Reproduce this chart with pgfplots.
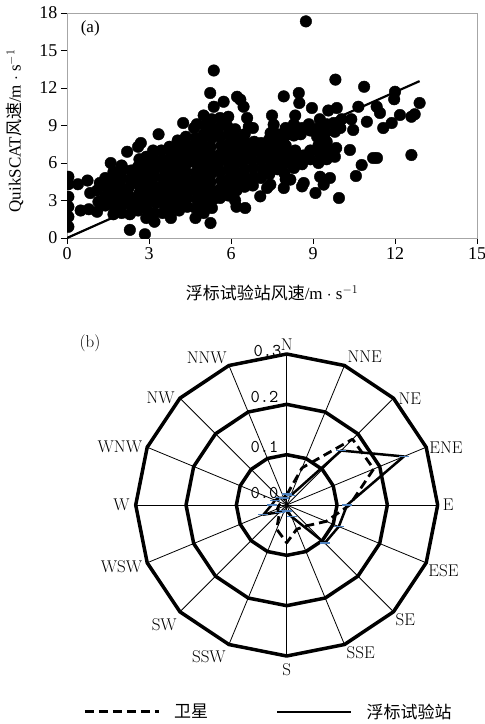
\documentclass[border=0pt]{standalone}
\usepackage{pgfplots}
\pgfplotsset{compat=1.18}
\usepgfplotslibrary{polar}
\usepackage{fontspec}
\newfontfamily\tnr{Liberation Serif}
\newfontfamily\cjk{Noto Sans CJK SC}
\definecolor{steelblue}{HTML}{4F81BD}
\newcommand{\fs}{\fontsize{17bp}{20bp}\selectfont}
\begin{document}
\begin{tikzpicture}
\useasboundingbox (0,0) rectangle (485bp,-724bp);
% (a) scatter
\begin{axis}[
  at={(67bp,-238bp)}, anchor=south west,
  scale only axis, width=410bp, height=225bp,
  xmin=0, xmax=15, ymin=0, ymax=18,
  xtick={0,3,...,15}, ytick={0,3,...,18},
  tick pos=left, tick align=outside,
  major tick length=6bp,
  axis line style={gray!70},
  tick style={black},
  ticklabel style={font=\fontsize{18bp}{20bp}\selectfont\tnr},
  /pgf/number format/assume math mode=true,
  xlabel={{\cjk 浮标试验站风速}{\tnr /m $\cdot$ s$^{-1}$}},
  ylabel={{\tnr QuikSCAT}{\cjk 风速}{\tnr /m $\cdot$ s$^{-1}$}},
  label style={font=\fs},
  x label style={at={(axis description cs:0.5,-0.244)}, anchor=center},
  y label style={at={(axis description cs:-0.127,0.476)}, anchor=center},
  clip marker paths=true,
]
\addplot[only marks, mark=*, mark size=5.8bp, black] coordinates {
(0.05,0.9)(0.05,1.7)(0.05,2.5)(0.05,3.3)(0.05,4.3)(0.05,4.9)
(0.5,2.2)(0.4,4.3)(0.75,4.6)
(0.8,2.3)(0.85,3.6)(1.1,2.1)(1.15,2.9)(1.1,3.8)(1.2,4.4)
(1.4,2.6)(1.4,3.3)(1.45,4.0)(1.4,4.8)
(1.7,1.9)(1.75,2.4)(1.7,3.0)(1.65,3.8)(1.7,4.6)(1.7,5.3)(1.6,6.0)
(2.0,2.0)(2.05,2.7)(2.0,3.4)(1.95,4.1)(2.0,4.8)(2.05,5.5)(2.0,5.8)
(2.3,0.65)(2.3,1.9)(2.35,2.6)(2.3,3.3)(2.25,4.0)(2.3,4.7)(2.35,5.4)(2.2,6.9)
(2.6,2.2)(2.6,2.9)(2.65,3.6)(2.6,4.3)(2.55,5.0)(2.6,5.7)(2.65,6.3)(2.6,7.3)
(2.85,0.3)(2.9,1.6)(2.9,2.4)(2.95,3.1)(2.9,3.8)(2.85,4.5)(2.9,5.2)(2.95,5.9)(2.9,6.5)(2.7,7.6)
(3.2,1.3)(3.2,2.0)(3.25,2.8)(3.2,3.5)(3.15,4.2)(3.2,4.9)(3.25,5.6)(3.2,6.3)(3.15,7.0)
(3.5,2.0)(3.55,2.7)(3.5,3.4)(3.45,4.1)(3.5,4.8)(3.55,5.5)(3.5,6.2)(3.45,7.0)(3.35,8.3)
(3.8,1.6)(3.8,2.4)(3.85,3.1)(3.8,3.8)(3.75,4.5)(3.8,5.2)(3.85,5.9)(3.8,6.6)(3.75,7.3)
(4.1,2.2)(4.1,2.9)(4.15,3.6)(4.1,4.3)(4.05,5.0)(4.1,5.7)(4.15,6.4)(4.1,7.1)(4.05,7.8)
(4.4,2.5)(4.4,3.2)(4.45,3.9)(4.4,4.6)(4.35,5.3)(4.4,6.0)(4.45,6.7)(4.4,7.4)(4.35,8.1)(4.25,9.2)
(4.7,1.6)(4.7,2.4)(4.75,3.1)(4.7,3.8)(4.65,4.5)(4.7,5.2)(4.75,5.9)(4.7,6.6)(4.65,7.3)(4.7,8.0)(4.65,8.8)(4.75,9.1)
(5.0,2.0)(5.0,2.7)(5.05,3.4)(5.0,4.1)(4.95,4.8)(5.0,5.5)(5.05,6.2)(5.0,6.9)(4.95,7.6)(5.0,8.3)(5.05,9.0)(5.0,9.8)
(5.25,1.2)(5.3,2.4)(5.35,3.1)(5.3,3.8)(5.25,4.5)(5.3,5.2)(5.35,5.9)(5.3,6.6)(5.25,7.3)(5.3,8.0)(5.35,8.7)(5.3,9.5)(5.37,10.5)(5.24,11.6)(5.37,13.4)
(5.6,3.2)(5.6,3.9)(5.65,4.6)(5.6,5.3)(5.55,6.0)(5.6,6.7)(5.65,7.4)(5.6,8.1)(5.55,8.8)(5.6,9.6)(5.73,10.9)
(5.9,3.4)(5.9,4.1)(5.95,4.8)(5.9,5.5)(5.85,6.2)(5.9,6.9)(5.95,7.6)(5.9,8.3)(5.85,9.0)(5.9,9.7)
(6.2,2.5)(6.15,3.0)(6.2,3.8)(6.25,4.5)(6.2,5.2)(6.15,5.9)(6.2,6.6)(6.25,7.3)(6.2,8.0)(6.15,8.7)(6.22,11.3)(6.34,11.07)
(6.52,2.4)(6.5,4.1)(6.55,4.8)(6.5,5.5)(6.45,6.2)(6.5,6.9)(6.55,7.6)(6.5,8.3)(6.59,9.6)(6.46,10.5)(6.65,8.9)
(6.8,4.2)(6.85,4.9)(6.8,5.6)(6.75,6.3)(6.8,7.0)(6.85,7.7)(6.8,8.8)
(7.07,3.33)(7.1,4.8)(7.15,5.5)(7.1,6.2)(7.05,6.9)(7.1,7.6)
(7.32,4.0)(7.44,4.27)(7.4,5.1)(7.45,5.8)(7.4,6.5)(7.35,7.2)(7.4,7.9)(7.45,8.4)(7.5,9.8)
(7.7,5.5)(7.75,6.2)(7.7,6.9)(7.65,7.6)(7.7,8.3)(7.56,9.07)
(7.93,4.0)(8.0,4.7)(7.95,5.2)(8.0,6.0)(8.05,6.7)(8.0,7.4)(7.95,8.1)(8.0,8.8)(7.93,11.33)
(8.17,4.67)(8.3,5.6)(8.3,6.3)(8.35,7.0)(8.3,8.2)(8.25,8.6)(8.3,9.1)(8.35,9.8)
(8.6,4.13)(8.66,4.4)(8.6,5.9)(8.65,6.6)(8.55,8.3)(8.6,8.8)(8.5,10.8)(8.48,11.6)
(8.9,6.3)(8.9,7.0)(8.9,8.6)(8.85,9.1)(8.96,10.4)(8.74,17.33)
(9.09,3.6)(9.26,4.9)(9.2,6.0)(9.25,6.7)(9.2,7.4)(9.15,8.1)(9.2,8.8)(9.25,9.5)
(9.39,4.27)(9.62,4.8)(9.5,6.3)(9.55,7.0)(9.5,7.7)(9.45,8.4)(9.5,9.1)(9.56,10.2)
(9.8,6.5)(9.85,7.2)(9.8,8.5)(9.75,9.2)(9.87,10.4)(9.82,12.67)
(9.95,3.2)(10.0,8.8)(10.05,9.5)
(10.35,7.04)(10.47,8.64)(10.4,9.5)(10.57,4.96)(10.66,10.5)(10.78,5.84)(10.97,9.3)(10.87,12.1)
(11.2,6.4)(11.34,6.4)(11.33,10.5)(11.45,10.0)(11.57,8.8)(11.88,9.2)
(12.0,11.7)(11.97,11.1)(12.18,9.84)(12.6,9.7)(12.72,9.9)(12.9,10.8)(12.6,6.64)
};
\addplot[black, line width=2.2bp] coordinates {(0,0) (12.9,12.55)};
\node[font=\fs\tnr] at (axis cs:0.85,16.8) {(a)};
\end{axis}
\node[font=\fs] at (90bp,-343bp) {(b)};
% (b) radar
\begin{polaraxis}[
  at={(286.7bp,-505bp)}, anchor=center,
  scale only axis, width=302bp, height=302bp,
  ymin=0, ymax=0.3, hide axis, clip=false,
  legend style={at={(axis description cs:0.44,-0.185)}, anchor=center,
    draw=none, fill=none, font=\fs\cjk,
    /tikz/every odd column/.append style={column sep=12bp},
    /tikz/every even column/.append style={column sep=66bp}},
  legend columns=2,
  legend image code/.code={\draw[#1, mark=none] (0bp,0bp) -- (74bp,0bp);},
]
\foreach \a in {0,22.5,45,67.5,90,112.5,135,157.5}{
  \addplot[forget plot, black, line width=0.8bp] coordinates {(\a,0.3) (\a+180,0.3)};
}
\addplot[forget plot, black, line width=3.5bp, line join=round] coordinates {
(0,0.1)(22.5,0.1)(45,0.1)(67.5,0.1)(90,0.1)(112.5,0.1)(135,0.1)(157.5,0.1)
(180,0.1)(202.5,0.1)(225,0.1)(247.5,0.1)(270,0.1)(292.5,0.1)(315,0.1)(337.5,0.1)(360,0.1)};
\addplot[forget plot, black, line width=3.5bp, line join=round] coordinates {
(0,0.2)(22.5,0.2)(45,0.2)(67.5,0.2)(90,0.2)(112.5,0.2)(135,0.2)(157.5,0.2)
(180,0.2)(202.5,0.2)(225,0.2)(247.5,0.2)(270,0.2)(292.5,0.2)(315,0.2)(337.5,0.2)(360,0.2)};
\addplot[forget plot, black, line width=3.5bp, line join=round] coordinates {
(0,0.3)(22.5,0.3)(45,0.3)(67.5,0.3)(90,0.3)(112.5,0.3)(135,0.3)(157.5,0.3)
(180,0.3)(202.5,0.3)(225,0.3)(247.5,0.3)(270,0.3)(292.5,0.3)(315,0.3)(337.5,0.3)(360,0.3)};
% satellite
\addplot[black, line width=2.8bp, dash pattern=on 9bp off 5bp, line join=round] coordinates {
(90,0.02)(67.5,0.08)(45,0.185)(22.5,0.187)(0,0.125)(-22.5,0.085)(-45,0.058)(-67.5,0.052)
(-90,0.075)(-112.5,0.052)(-135,0.02)(-157.5,0.02)(180,0.015)(157.5,0.01)(135,0.01)(112.5,0.012)(90,0.02)};
\addlegendentry{卫星}
% buoy
\addplot[black, line width=2.5bp, line join=round, mark=-, mark size=5bp,
  mark options={solid, draw=steelblue, line width=1.2bp}] coordinates {
(90,0.022)(67.5,0.02)(45,0.153)(22.5,0.252)(0,0.12)(-22.5,0.112)(-45,0.107)(-67.5,0.025)
(-90,0.012)(-112.5,0.012)(-135,0.02)(-157.5,0.05)(180,0.03)(157.5,0.025)(135,0.02)(112.5,0.015)(90,0.022)};
\addlegendentry{浮标试验站}
% radial labels
\begin{scope}[every node/.style={font=\fontsize{18bp}{20bp}\selectfont\ttfamily, inner sep=0pt, anchor=east}]
\node[xshift=-5bp, yshift=3bp] at (axis cs:90,0.3) {0.3};
\node[xshift=-8bp, yshift=7bp] at (axis cs:90,0.2) {0.2};
\node[xshift=-8bp, yshift=8bp] at (axis cs:90,0.1) {0.1};
\node[xshift=-8bp, yshift=12bp] at (axis cs:90,0) {0.0};
\end{scope}
% direction labels
\begin{scope}[every node/.style={font=\fs, inner sep=3bp}]
\node[anchor=south, yshift=0bp] at (axis cs:90,0.3) {N};
\node[anchor=south west] at (axis cs:67.5,0.3) {NNE};
\node[anchor=west, inner sep=5bp] at (axis cs:45,0.3) {NE};
\node[anchor=west] at (axis cs:22.5,0.3) {ENE};
\node[anchor=west, inner sep=5bp] at (axis cs:0,0.3) {E};
\node[anchor=north west, inner sep=2bp] at (axis cs:-22.5,0.3) {ESE};
\node[anchor=north west, inner sep=2bp] at (axis cs:-45,0.3) {SE};
\node[anchor=north west, inner sep=2bp] at (axis cs:-67.5,0.3) {SSE};
\node[anchor=north, inner sep=7bp] at (axis cs:-90,0.3) {S};
\node[anchor=north east, yshift=-3bp] at (axis cs:-112.5,0.3) {SSW};
\node[anchor=north east, yshift=-4bp] at (axis cs:-135,0.3) {SW};
\node[anchor=east, inner sep=5bp, yshift=-4bp] at (axis cs:-157.5,0.3) {WSW};
\node[anchor=east, inner sep=6bp] at (axis cs:180,0.3) {W};
\node[anchor=east, inner sep=5bp] at (axis cs:157.5,0.3) {WNW};
\node[anchor=east, inner sep=5bp] at (axis cs:135,0.3) {NW};
\node[anchor=south east, inner sep=2bp] at (axis cs:112.5,0.3) {NNW};
\end{scope}
\end{polaraxis}
\end{tikzpicture}
\end{document}
